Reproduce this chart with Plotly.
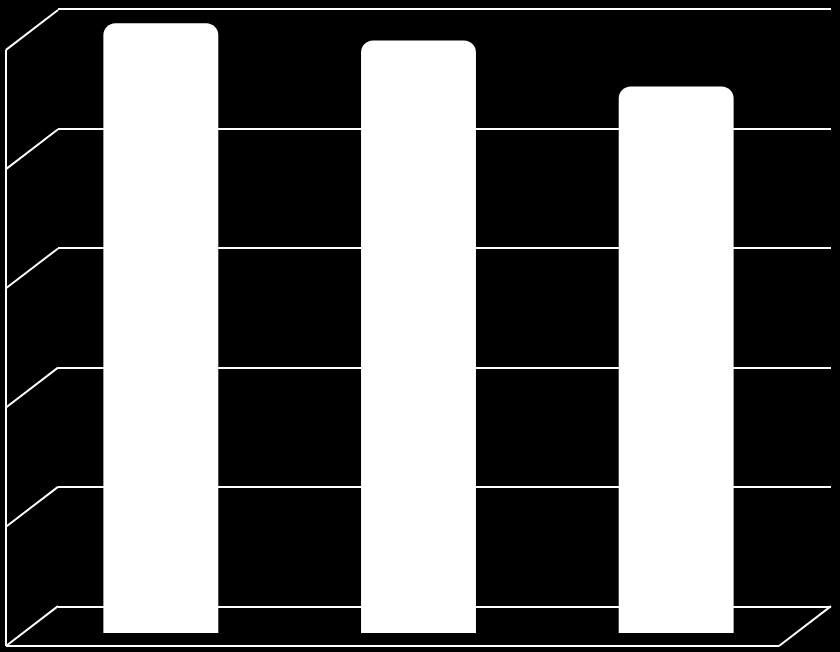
import plotly.graph_objects as go

# three bars, no labels in the picture, values read off the front plane
categories = ["A", "B", "C"]
values = [102.3, 99.4, 91.7]
grid_ticks = [0, 20, 40, 60, 80, 100]

W, H = 840, 652
# plot area (front plane of the bars) in pixels
m_left, m_right, m_top, m_bottom = 32, 9, 8, 19
plot_w = W - m_left - m_right
plot_h = H - m_top - m_bottom
# back wall is shifted by the depth offset
depth_dx, depth_dy = 26, 27
wall_w = plot_w - depth_dx
wall_h = plot_h - depth_dy
px_per_unit = wall_h / 100.0
# side wall / floor diagonals
side_dx, side_dy = 52, 40

fig = go.Figure()

# back wall: gridlines only
fig.add_trace(go.Scatter(x=categories, y=[None] * 3, xaxis="x", yaxis="y",
                         showlegend=False, hoverinfo="skip"))

# bars on the front plane
fig.add_trace(go.Bar(x=[0, 1, 2], y=values, xaxis="x2", yaxis="y2",
                     width=0.446, marker=dict(color="white", line=dict(width=0)),
                     showlegend=False))

shapes = []
dx_frac = -side_dx / wall_w
dy_frac = -side_dy / wall_h
line = dict(color="white", width=2)
for v in grid_ticks:
    yv = v / 100.0
    shapes.append(dict(type="line", xref="x domain", yref="y domain", layer="below",
                       x0=0, y0=yv, x1=dx_frac, y1=yv + dy_frac, line=line))
# left wall front edge
shapes.append(dict(type="line", xref="x domain", yref="y domain", layer="below",
                   x0=dx_frac, y0=1 + dy_frac, x1=dx_frac, y1=dy_frac, line=line))
# floor front edge and right diagonal
shapes.append(dict(type="line", xref="x domain", yref="y domain", layer="below",
                   x0=dx_frac, y0=dy_frac, x1=1 + dx_frac, y1=dy_frac, line=line))
shapes.append(dict(type="line", xref="x domain", yref="y domain", layer="below",
                   x0=1, y0=0, x1=1 + dx_frac, y1=dy_frac, line=line))

fig.update_layout(
    width=W, height=H,
    margin=dict(l=m_left, r=m_right, t=m_top, b=m_bottom, pad=0),
    paper_bgcolor="black", plot_bgcolor="rgba(0,0,0,0)",
    barcornerradius=12,
    shapes=shapes,
    xaxis=dict(domain=[depth_dx / plot_w, 1], range=[-0.5, 2.5],
               showgrid=False, showticklabels=False, zeroline=False,
               showline=True, mirror=True, linecolor="white", linewidth=2, ticks=""),
    yaxis=dict(domain=[depth_dy / plot_h, 1], range=[0, 100], tickvals=grid_ticks,
               showgrid=True, gridcolor="white", gridwidth=2, zeroline=False,
               showticklabels=False, showline=False, ticks=""),
    xaxis2=dict(domain=[0, 1], anchor="y2",
                range=[-0.5, -0.5 + 3 * plot_w / wall_w], visible=False),
    yaxis2=dict(domain=[0, 1], anchor="x2",
                range=[0, plot_h / px_per_unit], visible=False),
)

fig.write_html("out.html", config={"displayModeBar": False},
               post_script="document.body.style.margin='0px';")
